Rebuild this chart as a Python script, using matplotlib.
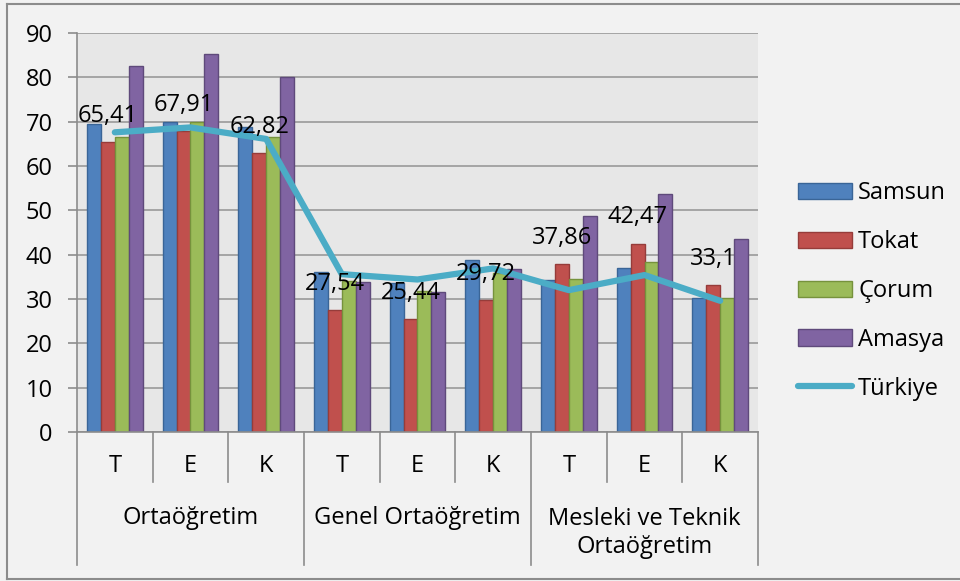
import numpy as np
import matplotlib.pyplot as plt
from matplotlib.lines import Line2D
from matplotlib.patches import Patch

plt.rcParams['font.family'] = ['Open Sans', 'DejaVu Sans']
FS = 17

# Veriler
groups = ['Ortaöğretim', 'Genel Ortaöğretim', 'Mesleki ve Teknik\nOrtaöğretim']
sub_labels = ['T', 'E', 'K']
samsun = [69.4, 70.0, 68.7, 36.2, 33.6, 38.8, 34.2, 36.9, 30.3]
tokat = [65.41, 67.91, 62.82, 27.54, 25.44, 29.72, 37.86, 42.47, 33.1]
corum = [66.5, 70.0, 66.6, 34.0, 31.9, 35.8, 34.4, 38.4, 30.2]
amasya = [82.6, 85.3, 80.0, 33.9, 31.6, 36.8, 48.7, 53.7, 43.5]
turkiye = [67.6, 68.7, 66.1, 35.6, 34.4, 36.9, 32.0, 35.4, 29.6]

series = [('Samsun', samsun, '#4f81bd', '#3a6597'),
          ('Tokat', tokat, '#c0504d', '#963c3a'),
          ('Çorum', corum, '#9bbb59', '#76923c'),
          ('Amasya', amasya, '#8064a2', '#5f4a7b')]
line_color = '#4bacc6'
grey = '#8c8c8c'

fig = plt.figure(figsize=(9.6, 5.81), dpi=100)
fig.patch.set_facecolor('#f2f2f2')
ax = fig.add_axes([77/960, 1 - 432/581, (758 - 77)/960, (432 - 33)/581])
ax.set_facecolor('#e7e7e7')

n = len(tokat)
x = np.arange(n)
w = 0.183

for k, (name, vals, col, edge) in enumerate(series):
    ax.bar(x + (k - 1.5) * w, vals, width=w, color=col, edgecolor=edge,
           linewidth=1, zorder=2)

ax.plot(x, turkiye, color=line_color, lw=4.5, solid_capstyle='round',
        solid_joinstyle='round', zorder=3)

# Tokat etiketleri
for i, v in enumerate(tokat):
    ax.annotate(f'{v:g}'.replace('.', ','), (x[i] - 0.5 * w, v),
                xytext=(0, 19), textcoords='offset points',
                ha='center', va='center', fontsize=FS, zorder=5)

ax.set_xlim(-0.5, n - 0.5)
ax.set_ylim(0, 90)
ax.set_yticks(range(0, 91, 10))
ax.set_xticks([])
ax.tick_params(axis='y', length=6.5, color=grey, width=1.2, pad=11, labelsize=FS)
ax.yaxis.grid(True, color='#a0a0a0', lw=1.3)
ax.set_axisbelow(True)
for s in ['top', 'right']:
    ax.spines[s].set_visible(False)
for s in ['left', 'bottom']:
    ax.spines[s].set_color(grey)
    ax.spines[s].set_linewidth(1.2)

# Çok seviyeli kategori ekseni
tr = ax.get_xaxis_transform()
for i in range(n + 1):
    b = i - 0.5
    y_end = -0.333 if i % 3 == 0 else -0.125
    ax.plot([b, b], [0, y_end], color=grey, lw=1.2, transform=tr, clip_on=False)
for i in range(n):
    ax.text(x[i], -0.085, sub_labels[i % 3], transform=tr, ha='center',
            va='center', fontsize=FS)
for g, name in enumerate(groups):
    yy = -0.253 if '\n' in name else -0.216
    ax.text(3 * g + 1, yy, name, transform=tr, ha='center', va='center',
            fontsize=FS, linespacing=1.2)

# Lejant
handles = [Patch(facecolor=c, edgecolor=e, lw=1, label=nm) for nm, _, c, e in series]
handles.append(Line2D([], [], color=line_color, lw=4.5, solid_capstyle='round',
                      label='Türkiye'))
fig.legend(handles=handles, loc='center left', bbox_to_anchor=(798/960, 1 - 291/581),
           frameon=False, fontsize=FS, handlelength=2.3, handleheight=0.68,
           labelspacing=1.05, handletextpad=0.25, borderpad=0, borderaxespad=0)

# Çerçeve
fig.add_artist(Line2D([7/960, 7/960], [1 - 4/581, 1 - 579/581], color=grey, lw=1.5))
fig.add_artist(Line2D([7/960, 1], [1 - 4/581, 1 - 4/581], color=grey, lw=1.5))
fig.add_artist(Line2D([7/960, 1], [1 - 579/581, 1 - 579/581], color=grey, lw=1.5))

fig.savefig('out.png', dpi=100, facecolor=fig.get_facecolor())
